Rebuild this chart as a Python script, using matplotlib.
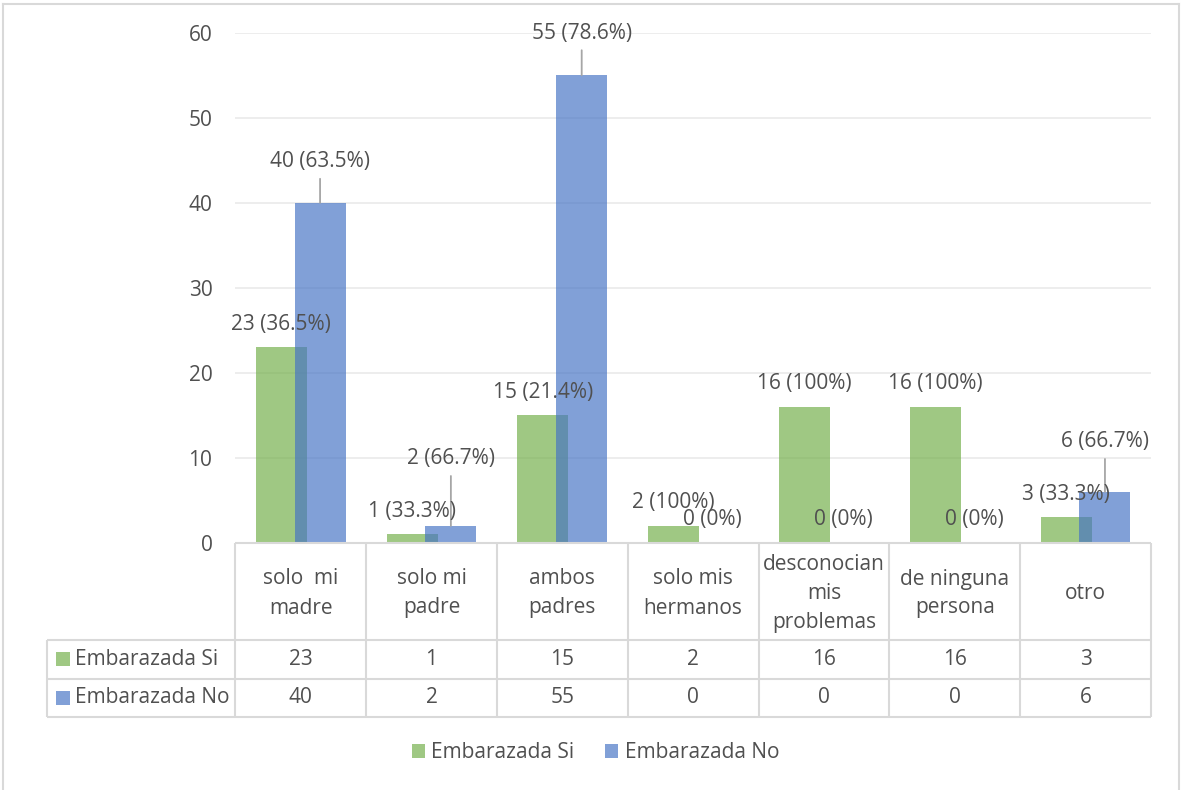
import matplotlib
matplotlib.use("Agg")
import matplotlib.pyplot as plt
from matplotlib.patches import Rectangle, Patch
from matplotlib.lines import Line2D

# ---- data ----
categories = ["solo  mi\nmadre", "solo mi\npadre", "ambos\npadres", "solo mis\nhermanos",
              "desconocian\nmis\nproblemas", "de ninguna\npersona", "otro"]
series_names = ["Embarazada Si", "Embarazada No"]
si_values = [23, 1, 15, 2, 16, 16, 3]
no_values = [40, 2, 55, 0, 0, 0, 6]
y_ticks = [0, 10, 20, 30, 40, 50, 60]

# ---- style ----
W, H, DPI = 1181, 790, 100
GREEN = "#70AD47"
BLUE = "#4472C4"
ALPHA = 0.67
TEXT = "#505050"
GRID = "#EDEDED"
LINE = "#D9D9D9"
LEADER = "#A6A6A6"
FS = 15
plt.rcParams["font.family"] = ["Open Sans", "DejaVu Sans"]

# label heights above bar tops (pixels); large values get a leader line
si_lift = [23, 23, 23, 23, 23, 23, 23]
no_lift = [41, 67, 42, 23, 23, 23, 50]

# plot area in pixels
PL, PR, PT, PB = 235.3, 1151.0, 32.7, 543.0
unit = (PR - PL) / len(categories)
TABLE_LEFT = 46.7
ROW_EDGES = [0, 97, 135.5, 173.5]   # pixels below the axis line

fig = plt.figure(figsize=(W / DPI, H / DPI), dpi=DPI)
ax = fig.add_axes([PL / W, 1 - PB / H, (PR - PL) / W, (PB - PT) / H])

x = list(range(len(categories)))
off, bw = 0.148, 0.39
xs_si = [i - off for i in x]
xs_no = [i + off for i in x]
ax.bar(xs_si, si_values, width=bw, color=GREEN, alpha=ALPHA, zorder=2, linewidth=0)
ax.bar(xs_no, no_values, width=bw, color=BLUE, alpha=ALPHA, zorder=3, linewidth=0)

ax.set_xlim(-0.5, len(categories) - 0.5)
ax.set_ylim(0, 60)
ax.set_yticks(y_ticks)
ax.set_xticks([])
ax.grid(axis="y", color=GRID, linewidth=1.4, zorder=0)
ax.set_axisbelow(True)
for s in ax.spines.values():
    s.set_visible(False)
ax.tick_params(axis="y", length=0, pad=16.5, labelsize=FS, labelcolor=TEXT)


def pct(v, total):
    p = 100.0 * v / total if total else 0.0
    s = f"{p:.1f}"
    return s[:-2] if s.endswith(".0") else s


def label(xpos, v, total, lift):
    ax.annotate(f"{v} ({pct(v, total)}%)", xy=(xpos, v), xytext=(0, lift * 0.72),
                textcoords="offset points", ha="center", va="center",
                fontsize=FS, color=TEXT, zorder=5, annotation_clip=False)
    if lift > 30:
        ax.annotate("", xy=(xpos, v), xytext=(0, (lift - 17) * 0.72),
                    textcoords="offset points",
                    arrowprops=dict(arrowstyle="-", color=LEADER, lw=1.3,
                                    shrinkA=0, shrinkB=0), zorder=4)


for i in x:
    total = si_values[i] + no_values[i]
    label(xs_si[i], si_values[i], total, si_lift[i])
    label(xs_no[i], no_values[i], total, no_lift[i])

# ---- data table under the axis ----
head_w = (PL - TABLE_LEFT) / unit
xmin = -0.5 - head_w
xmax = len(categories) - 0.5
tax = fig.add_axes([TABLE_LEFT / W, 1 - (PB + ROW_EDGES[-1]) / H,
                    (PR - TABLE_LEFT) / W, ROW_EDGES[-1] / H])
tax.set_xlim(xmin, xmax)
tax.set_ylim(ROW_EDGES[-1], 0)
tax.axis("off")

lk = dict(color=LINE, linewidth=1.5, clip_on=False, solid_capstyle="butt")
tax.add_line(Line2D([-0.5, xmax], [0, 0], **lk))
for yy in ROW_EDGES[1:]:
    tax.add_line(Line2D([xmin, xmax], [yy, yy], **lk))
for k in range(len(categories) + 1):
    tax.add_line(Line2D([-0.5 + k, -0.5 + k], [0, ROW_EDGES[-1]], **lk))
tax.add_line(Line2D([xmin, xmin], [ROW_EDGES[1], ROW_EDGES[-1]], **lk))

hdr_y = (ROW_EDGES[0] + ROW_EDGES[1]) / 2 + 2
for i, c in enumerate(categories):
    tax.text(i, hdr_y, c, ha="center", va="center", fontsize=FS, color=TEXT,
             linespacing=1.5)

rows = [(series_names[0], si_values, GREEN), (series_names[1], no_values, BLUE)]
sq = 14 / unit
for r, (name, vals, col) in enumerate(rows):
    yc = (ROW_EDGES[r + 1] + ROW_EDGES[r + 2]) / 2
    tax.add_patch(Rectangle((xmin + 9.3 / unit, yc - 7), sq, 14, facecolor=col,
                            alpha=ALPHA, linewidth=0, clip_on=False))
    tax.text(xmin + 28 / unit, yc, name, ha="left", va="center", fontsize=FS, color=TEXT)
    for i, v in enumerate(vals):
        tax.text(i, yc, str(v), ha="center", va="center", fontsize=FS, color=TEXT)

# ---- legend ----
handles = [Patch(facecolor=GREEN, alpha=ALPHA, linewidth=0),
           Patch(facecolor=BLUE, alpha=ALPHA, linewidth=0)]
leg = fig.legend(handles, series_names, loc="center", bbox_to_anchor=(595.5 / W, 1 - 753 / H),
                 ncol=2, frameon=False, fontsize=FS, handlelength=0.62, handleheight=0.62,
                 handletextpad=0.3, columnspacing=1.5, labelcolor=TEXT)

# ---- chart frame ----
fk = dict(color=LINE, linewidth=1.5, transform=None)
fig.add_artist(Line2D([2.7, 2.7], [0, H - 4], **fk))
fig.add_artist(Line2D([1179.3, 1179.3], [0, H - 4], **fk))
fig.add_artist(Line2D([2.7, 1179.3], [H - 4, H - 4], **fk))

fig.savefig("out.png", dpi=DPI, facecolor="white")
